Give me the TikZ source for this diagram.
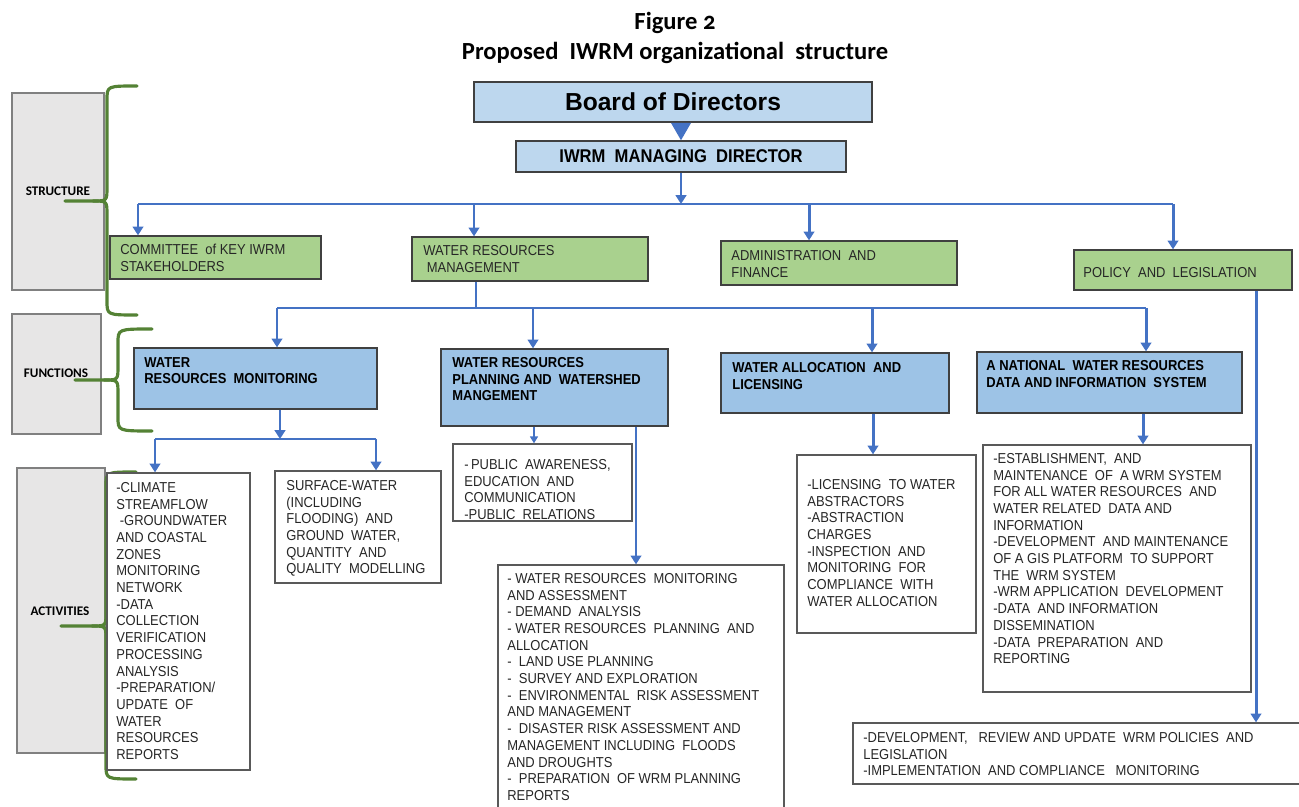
\documentclass[tikz,border=0pt]{standalone}
\usepackage{fontspec}
\setmainfont{Liberation Sans}
\newfontfamily\boxfont[FakeStretch=0.9]{Liberation Sans}
\newfontfamily\titlefont[Numbers=OldStyle]{Carlito}
\usepackage{tikz}
\usetikzlibrary{arrows.meta, fit}

\definecolor{arrowblue}{HTML}{4472C4}
\definecolor{topblue}{HTML}{BDD7EE}
\definecolor{funcblue}{HTML}{9DC3E6}
\definecolor{unitgreen}{HTML}{A9D18E}
\definecolor{bracegreen}{HTML}{548235}
\definecolor{sidegray}{HTML}{E7E6E6}

\tikzset{
  frame/.style={draw=black!75, line width=0.7pt, inner sep=0pt},
  topbox/.style={frame, fill=topblue},
  unitbox/.style={frame, fill=unitgreen},
  funcbox/.style={frame, fill=funcblue},
  actbox/.style={draw=black!65, line width=0.7pt, fill=white, inner sep=0pt},
  sidebox/.style={draw=black!50, line width=0.6pt, fill=sidegray, inner sep=0pt},
  sidetext/.style={inner sep=0pt, font=\titlefont\bfseries\fontsize{7.5}{9}\selectfont},
  boxtext/.style={anchor=north west, inner sep=0pt, align=left, text=black!85,
    font=\boxfont\fontsize{8.2}{9.5}\selectfont},
  functext/.style={boxtext, text=black, font=\boxfont\bfseries\fontsize{8.2}{9.5}\selectfont},
  link/.style={draw=arrowblue, line width=1.7pt},
  arr/.style={link, -{Triangle[length=5pt,width=6pt]}},
  thinarr/.style={draw=arrowblue, line width=1pt, -{Triangle[length=4pt,width=4.5pt]}},
  brace/.style={draw=bracegreen, line width=1.8pt, line cap=round},
}

\begin{document}
\begin{tikzpicture}[x=0.02cm, y=-0.02cm]
    \useasboundingbox (0,0) rectangle (1299,807);

    % title
    \node[align=center, font=\titlefont\bfseries\fontsize{14}{17}\selectfont] (title) at (675,38)
        {Figure 2\\Proposed\ \ IWRM organizational\ \ structure};

    % side labels and braces
    \node[sidebox, fit={(12,93) (104,290)}] (structure) {};
    \node[sidebox, fit={(12,314) (101,434)}] (functions) {};
    \node[sidebox, fit={(17,468) (105,753)}] (activities) {};
    \node[sidetext] (structure-t) at (58,191) {STRUCTURE};
    \node[sidetext] (functions-t) at (56,373) {FUNCTIONS};
    \node[sidetext] (activities-t) at (60,611) {ACTIVITIES};
    \draw[brace] (137,86) .. controls (107,86) .. (107,100) -- (107,187)
        .. controls (107,201) .. (93,201) -- (65,201);
    \draw[brace] (93,201) .. controls (107,201) .. (107,215) -- (107,301)
        .. controls (107,315) .. (137,315);
    \draw[brace] (152,329) .. controls (118,329) .. (118,343) -- (118,366)
        .. controls (118,380) .. (104,380) -- (75,380);
    \draw[brace] (104,380) .. controls (118,380) .. (118,394) -- (118,417)
        .. controls (118,431) .. (152,431);
    \draw[brace] (136,472) .. controls (106,472) .. (106,486) -- (106,612)
        .. controls (106,626) .. (92,626) -- (61,626);
    \draw[brace] (92,626) .. controls (106,626) .. (106,640) -- (106,765)
        .. controls (106,779) .. (136,779);

    % top of the structure
    \node[topbox, fit={(474,82) (872,122)}] (board) {};
    \node[topbox, fit={(516,141) (846,172)}] (md) {};
    \node[font=\bfseries\fontsize{14}{16}\selectfont] (board-t) at (board.center) {Board of Directors};
    \node[font=\boxfont\bfseries\fontsize{10.5}{12}\selectfont] (md-t) at (md.center) {IWRM\ \ MANAGING\ \ DIRECTOR};
    \draw[line width=1.7pt, draw=arrowblue, -{Triangle[length=10pt,width=11pt]}] (board.south -| md.north) -- (md.north);

    % structure units
    \node[unitbox, fit={(110,236) (321,279)}] (com) {};
    \node[unitbox, fit={(412,237) (648,281)}] (wrm) {};
    \node[unitbox, fit={(721,241) (957,285)}] (adm) {};
    \node[unitbox, fit={(1074,250) (1292,290)}] (pol) {};
    \node[boxtext] (com-t) at (120,244) {COMMITTEE\ \ of KEY IWRM\\STAKEHOLDERS};
    \node[boxtext] (wrm-t) at (423,245) {WATER RESOURCES\\\hspace{2pt}MANAGEMENT};
    \node[boxtext] (adm-t) at (731,250) {ADMINISTRATION\ \ AND\\FINANCE};
    \node[boxtext] (pol-t) at (1083,267) {POLICY\ \ AND\ \ LEGISLATION};

    \coordinate (b1a) at (138,204);
    \coordinate (b1b) at (474,204);
    \coordinate (b1c) at (809,204);
    \coordinate (b1d) at (1173,204);
    \draw[arr] (md.south) -- (md.south |- b1a);
    \draw[link] (b1a) -- (b1d);
    \draw[arr] (b1a) -- (b1a |- com.north);
    \draw[arr] (b1b) -- (b1b |- wrm.north);
    \draw[arr] (b1c) -- (b1c |- adm.north);
    \draw[arr] (b1d) -- (b1d |- pol.north);

    % functions
    \node[funcbox, fit={(134,348) (377,409)}] (wrmon) {};
    \node[funcbox, fit={(441,349) (668,426)}] (wrplan) {};
    \node[funcbox, fit={(721,353) (949,413)}] (wal) {};
    \node[funcbox, fit={(977,352) (1242,413)}] (nwr) {};
    \node[functext] (wrmon-t) at (144,357) {WATER\\RESOURCES\ \ MONITORING};
    \node[functext] (wrplan-t) at (452,357) {WATER RESOURCES\\PLANNING AND\ \ WATERSHED\\MANGEMENT};
    \node[functext] (wal-t) at (732,362) {WATER ALLOCATION\ \ AND\\LICENSING};
    \node[functext] (nwr-t) at (986,360) {A NATIONAL\ \ WATER RESOURCES\\DATA AND INFORMATION\ \ SYSTEM};

    \coordinate (b2s) at (476,308);
    \coordinate (b2a) at (277,308);
    \coordinate (b2b) at (533,308);
    \coordinate (b2c) at (872,308);
    \coordinate (b2d) at (1146,308);
    \draw[link] (wrm.south -| b2s) -- (b2s);
    \draw[link] (b2a) -- (b2d);
    \draw[arr] (b2a) -- (b2a |- wrmon.north);
    \draw[arr] (b2b) -- (b2b |- wrplan.north);
    \draw[arr] (b2c) -- (b2c |- wal.north);
    \draw[arr] (b2d) -- (b2d |- nwr.north);

    % activities
    \node[actbox, fit={(107,473) (250,770)}] (act1) {};
    \node[actbox, fit={(275,471) (441,583)}] (act2) {};
    \node[actbox, fit={(453,444) (632,521)}] (pub) {};
    \node[actbox, fit={(498,565) (784,812)}] (plan) {};
    \node[actbox, fit={(797,455) (976,633)}] (lic) {};
    \node[actbox, fit={(983,445) (1251,692)}] (data) {};
    \node[actbox, fit={(853,723) (1304,784)}] (law) {};

    \node[boxtext] (act1-t) at (116,482) {-CLIMATE\\STREAMFLOW\\\hspace{2pt}-GROUNDWATER\\AND COASTAL\\ZONES\\MONITORING\\NETWORK\\-DATA\\COLLECTION\\VERIFICATION\\PROCESSING\\ANALYSIS\\-PREPARATION/\\UPDATE\ \ OF\\WATER\\RESOURCES\\REPORTS};
    \node[boxtext] (act2-t) at (286,480) {SURFACE-WATER\\(INCLUDING\\FLOODING)\ \ AND\\GROUND\ \ WATER,\\QUANTITY\ \ AND\\QUALITY\ \ MODELLING};
    \node[boxtext] (pub-t) at (464,459) {-\,PUBLIC\ \ AWARENESS,\\EDUCATION\ \ AND\\COMMUNICATION\\-PUBLIC\ \ RELATIONS};
    \node[boxtext] (plan-t) at (507,573) {- WATER RESOURCES\ \ MONITORING\\AND ASSESSMENT\\- DEMAND\ \ ANALYSIS\\- WATER RESOURCES\ \ PLANNING\ \ AND\\ALLOCATION\\-\ \ LAND USE PLANNING\\-\ \ SURVEY AND EXPLORATION\\-\ \ ENVIRONMENTAL\ \ RISK ASSESSMENT\\AND MANAGEMENT\\-\ \ DISASTER RISK ASSESSMENT AND\\MANAGEMENT INCLUDING\ \ FLOODS\\AND DROUGHTS\\-\ \ PREPARATION\ \ OF WRM PLANNING\\REPORTS};
    \node[boxtext] (lic-t) at (807,479) {-LICENSING\ \ TO WATER\\ABSTRACTORS\\-ABSTRACTION\\CHARGES\\-INSPECTION\ \ AND\\MONITORING\ \ FOR\\COMPLIANCE\ \ WITH\\WATER ALLOCATION};
    \node[boxtext] (data-t) at (993,453) {-ESTABLISHMENT,\ \ AND\\MAINTENANCE\ \ OF\ \ A WRM SYSTEM\\FOR ALL WATER RESOURCES\ \ AND\\WATER RELATED\ \ DATA AND\\INFORMATION\\-DEVELOPMENT\ \ AND MAINTENANCE\\OF A GIS PLATFORM\ \ TO SUPPORT\\THE\ \ WRM SYSTEM\\-WRM APPLICATION\ \ DEVELOPMENT\\-DATA\ \ AND INFORMATION\\DISSEMINATION\\-DATA\ \ PREPARATION\ \ AND\\REPORTING};
    \node[boxtext] (law-t) at (863,732) {-DEVELOPMENT,\ \ \ REVIEW AND UPDATE\ \ WRM POLICIES\ \ AND\\LEGISLATION\\-IMPLEMENTATION\ \ AND COMPLIANCE\ \ \ MONITORING};

    \coordinate (c-mon) at (280,0);
    \coordinate (b3a) at (155,439);
    \coordinate (b3b) at (376,439);
    \coordinate (c-pub) at (534,0);
    \coordinate (c-plan) at (636,0);
    \coordinate (c-lic) at (873,0);
    \coordinate (c-data) at (1143,0);
    \coordinate (c-law) at (1256,0);
    \draw[arr] (wrmon.south -| c-mon) -- (b3a -| c-mon);
    \draw[link] (b3a) -- (b3b);
    \draw[arr] (b3a) -- (b3a |- act1.north);
    \draw[arr] (b3b) -- (b3b |- act2.north);
    \draw[thinarr] (wrplan.south -| c-pub) -- (pub.north -| c-pub);
    \draw[arr] (wrplan.south -| c-plan) -- (plan.north -| c-plan);
    \draw[arr] (wal.south -| c-lic) -- (lic.north -| c-lic);
    \draw[arr] (nwr.south -| c-data) -- (data.north -| c-data);
    \draw[arr] (pol.south -| c-law) -- (law.north -| c-law);
\end{tikzpicture}
\end{document}
